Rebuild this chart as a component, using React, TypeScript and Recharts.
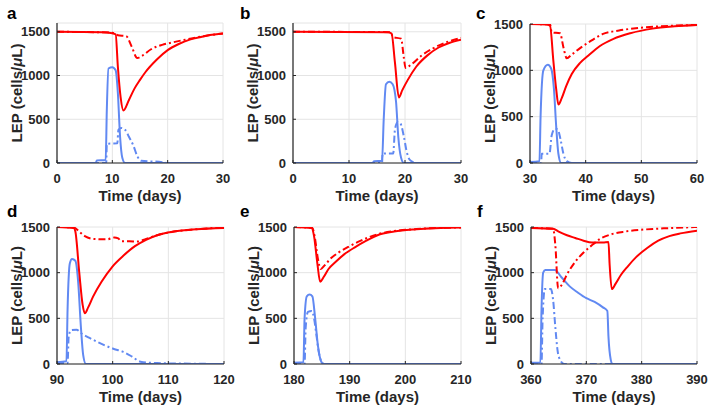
import React from 'react';
import { LineChart, Line, XAxis, YAxis, CartesianGrid } from 'recharts';

type P = [number, number];

// ---- panel a (days 0-30)
const aRedSolid: P[] = [[0,1500],[8,1495],[10,1482],[10.6,1470],[11,1100],[11.5,750],[12,600],[13,720],[14,850],[15,950],[16,1040],[18,1180],[20,1290],[22,1360],[24,1410],[26,1440],[28,1465],[30,1480]];
const aRedDash: P[] = [[0,1500],[10,1490],[11,1460],[12.5,1450],[13.5,1330],[14.5,1200],[15.5,1230],[17,1300],[19,1350],[21,1380],[24,1420],[27,1455],[30,1480]];
const aBlueSolid: P[] = [[0,0],[7,0],[7.2,30],[8.8,35],[9.0,600],[9.3,1080],[10,1095],[10.6,1060],[11.0,800],[11.4,300],[11.8,60],[12.3,0],[30,0]];
const aBlueDash: P[] = [[0,0],[8.9,0],[9.0,220],[10.9,225],[11.1,380],[11.6,400],[12.3,380],[13,300],[13.8,200],[14.5,80],[15.2,25],[19,10],[20,0],[30,0]];

// ---- panel b (days 0-30)
const bRedSolid: P[] = [[0,1500],[17,1495],[17.6,1480],[18.2,1150],[18.9,750],[19.5,830],[20.5,950],[22,1100],[24,1230],[26,1320],[28,1375],[30,1410]];
const bRedDash: P[] = [[0,1500],[17.5,1495],[17.8,1440],[19.3,1420],[19.8,1200],[20.1,1085],[21,1120],[23,1230],[25,1310],[27,1370],[30,1430]];
const bBlueSolid: P[] = [[0,0],[14.2,0],[14.5,20],[15.9,25],[16.2,500],[16.6,900],[17.2,930],[17.8,900],[18.4,700],[18.8,300],[19.3,60],[19.8,0],[30,0]];
const bBlueDash: P[] = [[0,0],[15.9,0],[16.0,110],[17.9,110],[18.2,380],[18.7,470],[19.2,450],[19.8,300],[20.3,130],[20.8,40],[21.5,10],[22,0],[30,0]];

// ---- panel c (days 30-60)
const cRedSolid: P[] = [[30,1500],[33,1495],[33.6,1480],[34.2,1100],[34.7,800],[35.1,630],[35.7,700],[36.5,830],[37.5,960],[39,1080],[40.5,1160],[42.5,1260],[45,1340],[48,1400],[52,1450],[56,1475],[60,1490]];
const cRedDash: P[] = [[30,1500],[33.6,1495],[33.9,1410],[35.4,1400],[36.0,1250],[36.6,1130],[37.5,1170],[39,1240],[41,1320],[43,1390],[46,1430],[50,1460],[55,1480],[60,1490]];
const cBlueSolid: P[] = [[30,10],[31.7,20],[31.9,500],[32.4,1000],[33.2,1060],[33.8,1020],[34.3,800],[34.7,400],[35.1,100],[35.6,0],[60,0]];
const cBlueDash: P[] = [[30,0],[32.0,0],[32.1,100],[33.5,100],[33.9,300],[34.5,370],[35.0,360],[35.5,250],[36.0,100],[36.6,20],[37.5,0],[60,0]];

// ---- panel d (days 90-120)
const dRedSolid: P[] = [[90,1500],[93,1490],[93.3,1450],[94,1000],[94.6,650],[95,555],[95.6,620],[96.5,740],[98,900],[100,1070],[102,1190],[104,1290],[106,1360],[108,1410],[111,1450],[115,1475],[120,1490]];
const dRedDash: P[] = [[90,1500],[93,1495],[94,1450],[95,1400],[96.5,1370],[99,1365],[100.3,1385],[101,1375],[101.5,1345],[103,1345],[104.5,1340],[106,1370],[108,1410],[111,1450],[115,1475],[120,1495]];
const dBlueSolid: P[] = [[90,20],[91.7,30],[91.9,600],[92.3,1100],[92.7,1150],[93.3,1130],[93.8,900],[94.3,400],[94.7,100],[95.2,0],[120,0]];
const dBlueDash: P[] = [[90,10],[91.9,10],[92.1,300],[92.5,370],[93.5,375],[94.5,330],[96,280],[98,220],[100,170],[102,130],[103.5,80],[105,25],[108,10],[112,5],[120,0]];

// ---- panel e (days 180-210)
const eRedSolid: P[] = [[180,1500],[183.2,1490],[183.6,1400],[184.2,1100],[184.7,900],[185.3,950],[186.2,1040],[187.5,1120],[189,1200],[191,1280],[193,1350],[195,1410],[198,1450],[202,1475],[210,1495]];
const eRedDash: P[] = [[180,1500],[183.3,1490],[183.7,1400],[184.3,1150],[184.8,1040],[185.5,1080],[186.5,1150],[188,1220],[190,1290],[192,1350],[195,1420],[198,1455],[202,1478],[210,1495]];
const eBlueSolid: P[] = [[180,15],[181.7,20],[181.9,500],[182.3,740],[182.8,760],[183.3,740],[183.8,500],[184.3,200],[184.8,40],[185.3,0],[210,0]];
const eBlueDash: P[] = [[180,0],[181.9,0],[182.1,400],[182.5,570],[183.2,580],[183.6,500],[184.0,330],[184.4,150],[184.9,30],[185.4,0],[210,0]];

// ---- panel f (days 360-390)
const fRedSolid: P[] = [[360,1490],[364,1480],[365,1450],[366.5,1410],[368,1380],[369.5,1350],[371,1330],[373,1330],[374,1335],[374.2,1100],[374.6,820],[375.3,880],[376.3,980],[377.5,1070],[379,1170],[381,1270],[383,1350],[385,1400],[387,1430],[390,1460]];
const fRedDash: P[] = [[360,1490],[364,1480],[364.4,1300],[364.9,830],[365.5,860],[366.5,980],[368,1120],[369.5,1220],[371,1300],[372.5,1370],[374.5,1420],[377,1450],[380,1470],[384,1485],[390,1500]];
const fBlueSolid: P[] = [[360,15],[361.7,15],[361.9,600],[362.2,1000],[362.6,1030],[364.3,1030],[365.5,950],[367,850],[368.5,780],[370,720],[371.5,680],[373,620],[373.8,580],[374.0,300],[374.4,50],[374.7,0],[390,0]];
const fBlueDash: P[] = [[360,0],[361.9,0],[362.1,500],[362.5,820],[363.6,820],[364.0,700],[364.4,400],[364.8,150],[365.3,40],[366,0],[390,0]];

const panelLetters = ['a', 'b', 'c', 'd', 'e', 'f'];
const xTickSets = [[0,10,20,30],[0,10,20,30],[30,40,50,60],[90,100,110,120],[180,190,200,210],[360,370,380,390]];
const yMaxes = [1600, 1600, 1500, 1500, 1500, 1500];
const yTicks = [0, 500, 1000, 1500];
const xLabel = 'Time (days)';

const RED = '#ff0000';
const BLUE = '#6189f2';
const INK = '#262626';
const FONT = '"Liberation Sans", Arial, Helvetica, sans-serif';
const DASHDOT = '7 3 2 3';

const toData = (arr: P[]) => arr.map(([t, v]) => ({ t, v }));

const seriesSets = [
  [aRedSolid, aRedDash, aBlueSolid, aBlueDash],
  [bRedSolid, bRedDash, bBlueSolid, bBlueDash],
  [cRedSolid, cRedDash, cBlueSolid, cBlueDash],
  [dRedSolid, dRedDash, dBlueSolid, dBlueDash],
  [eRedSolid, eRedDash, eBlueSolid, eBlueDash],
  [fRedSolid, fRedDash, fBlueSolid, fBlueDash],
];

// plot-area geometry (layout only)
const geom = [
  { PL: 57, PR: 223, PT: 23, PB: 163, lx: 7, ly: 18.5 },
  { PL: 293, PR: 461, PT: 23, PB: 163, lx: 240, ly: 18.5 },
  { PL: 530, PR: 697, PT: 24, PB: 163, lx: 476, ly: 18.5 },
  { PL: 57, PR: 224, PT: 227, PB: 364, lx: 7, ly: 216.5 },
  { PL: 294, PR: 461, PT: 227, PB: 364, lx: 240, ly: 216.5 },
  { PL: 531, PR: 697, PT: 227, PB: 364, lx: 477, ly: 216.5 },
];

const YAW = 50;
const XAH = 45;
const MT = 11;
const MR = 12;

function Panel({ idx }: { idx: number }) {
  const g = geom[idx];
  const ticks = xTickSets[idx];
  const [rs, rd, bs, bd] = seriesSets[idx];
  const pw = g.PR - g.PL;
  const ph = g.PB - g.PT;
  const W = pw + YAW + MR;
  const H = ph + MT + XAH;
  const xl = YAW + pw / 2;
  const xy = MT + ph + 32;
  const yx = YAW - 41;
  const yy = MT + ph / 2;
  const labelStyle = { fill: INK, fontSize: 15, fontWeight: 'bold' as const, fontFamily: FONT };
  return (
    <div style={{ position: 'absolute', left: g.PL - YAW, top: g.PT - MT, width: W, height: H }}>
      <LineChart width={W} height={H} margin={{ top: MT, right: MR, left: 0, bottom: 0 }}>
        <CartesianGrid stroke="#e4e4e4" strokeWidth={1} />
        <XAxis
          dataKey="t"
          type="number"
          domain={[ticks[0], ticks[ticks.length - 1]]}
          ticks={ticks}
          interval={0}
          allowDataOverflow
          height={XAH}
          tickSize={-3}
          tickMargin={14}
          axisLine={{ stroke: INK, strokeWidth: 1.2 }}
          tickLine={{ stroke: INK }}
          tick={{ fill: INK, fontSize: 13, fontWeight: 'bold', fontFamily: FONT }}
          label={() => (
            <text x={xl} y={xy} textAnchor="middle" dominantBaseline="central" style={labelStyle}>{xLabel}</text>
          )}
        />
        <YAxis
          dataKey="v"
          type="number"
          domain={[0, yMaxes[idx]]}
          ticks={yTicks}
          interval={0}
          allowDataOverflow
          width={YAW}
          tickSize={-3}
          tickMargin={10}
          axisLine={{ stroke: INK, strokeWidth: 1.2 }}
          tickLine={{ stroke: INK }}
          tick={{ fill: INK, fontSize: 13, fontWeight: 'bold', fontFamily: FONT }}
          label={() => (
            <text x={yx} y={yy} transform={`rotate(-90 ${yx} ${yy})`} textAnchor="middle" dominantBaseline="central" style={labelStyle}>
              LEP (cells/<tspan fontStyle="italic">μ</tspan>L)
            </text>
          )}
        />
        <Line data={toData(bs)} dataKey="v" type="monotone" stroke={BLUE} strokeWidth={2} dot={false} isAnimationActive={false} />
        <Line data={toData(bd)} dataKey="v" type="monotone" stroke={BLUE} strokeWidth={2} strokeDasharray={DASHDOT} dot={false} isAnimationActive={false} />
        <Line data={toData(rd)} dataKey="v" type="monotone" stroke={RED} strokeWidth={2} strokeDasharray={DASHDOT} dot={false} isAnimationActive={false} />
        <Line data={toData(rs)} dataKey="v" type="monotone" stroke={RED} strokeWidth={2} dot={false} isAnimationActive={false} />
      </LineChart>
    </div>
  );
}

export default function App() {
  return (
    <div style={{ position: 'absolute', left: 0, top: 0, width: 709, height: 408, background: '#fff', fontFamily: FONT }}>
      {geom.map((_, i) => <Panel key={i} idx={i} />)}
      <svg width={709} height={408} style={{ position: 'absolute', left: 0, top: 0, pointerEvents: 'none' }}>
        {geom.map((g, i) => (
          <text key={i} x={g.lx} y={g.ly} fill="#000" fontSize={17} fontWeight="bold" fontFamily={FONT}>{panelLetters[i]}</text>
        ))}
      </svg>
    </div>
  );
}
